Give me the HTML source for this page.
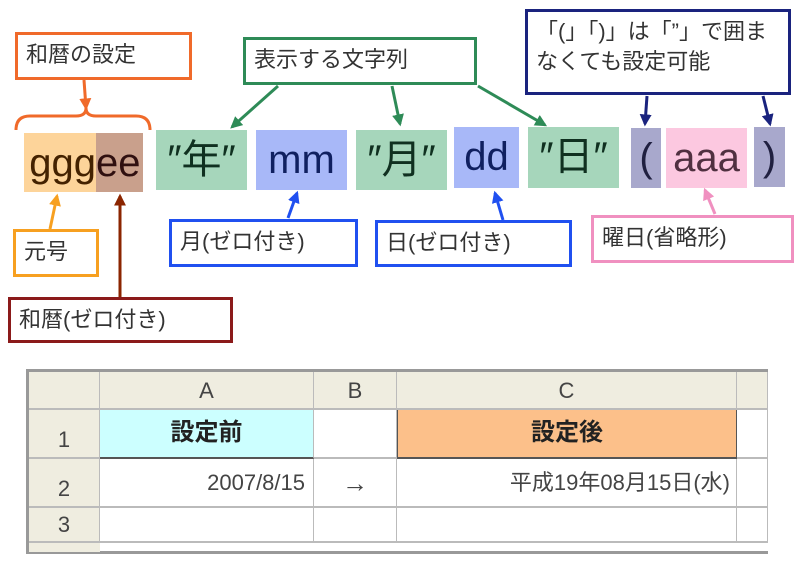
<!DOCTYPE html>
<html><head><meta charset="utf-8"><style>
body{margin:0;width:800px;height:566px;background:#fff;position:relative;overflow:hidden;font-family:"Liberation Sans","Noto Sans CJK JP",sans-serif;}
div{position:absolute;box-sizing:border-box;}
.b{background:#fff;border:3px solid;font-size:22px;color:#333;padding-left:8px;line-height:40px;white-space:nowrap}
.t{font-size:40px;text-align:center;line-height:60px}
.c{border-right:1px solid #bbb;border-bottom:2px solid #bbb;text-align:center;font-size:22px;color:#444}
</style></head><body>
<div class="b" style="left:15px;top:32px;width:177px;height:48px;border-color:#f06a2a">和暦の設定</div>
<div class="b" style="left:243px;top:37px;width:234px;height:48px;border-color:#2e8b57">表示する文字列</div>
<div class="b" style="left:525px;top:9px;width:266px;height:86px;border-color:#1a237e;line-height:30px;padding-top:5px">「(」「)」は「”」で囲ま<br>なくても設定可能</div>

<div class="t" style="left:24px;top:133px;width:72px;height:59px;background:#fdd49a;color:#442200;text-align:right">ggg</div>
<div class="t" style="left:96px;top:133px;width:47px;height:59px;background:#c9a08c;color:#301010;text-align:left">ee</div>
<div class="t" style="left:156px;top:130px;width:91px;height:60px;background:#a6d6bb;color:#103020">″年″</div>
<div class="t" style="left:256px;top:130px;width:91px;height:60px;background:#a8b8f8;color:#102060">mm</div>
<div class="t" style="left:356px;top:130px;width:91px;height:60px;background:#a6d6bb;color:#103020">″月″</div>
<div class="t" style="left:454px;top:127px;width:65px;height:61px;background:#a8b8f8;color:#102060">dd</div>
<div class="t" style="left:528px;top:127px;width:91px;height:61px;background:#a6d6bb;color:#103020">″日″</div>
<div class="t" style="left:631px;top:128px;width:30px;height:60px;background:#a8a8cc;color:#202040">(</div>
<div class="t" style="left:666px;top:128px;width:81px;height:60px;background:#fcc8e0;color:#503040">aaa</div>
<div class="t" style="left:754px;top:127px;width:31px;height:60px;background:#a8a8cc;color:#202040">)</div>

<div class="b" style="left:13px;top:229px;width:86px;height:48px;border-color:#f7a020">元号</div>
<div class="b" style="left:8px;top:297px;width:225px;height:46px;border-color:#8b1a1a">和暦(ゼロ付き)</div>
<div class="b" style="left:169px;top:219px;width:189px;height:48px;border-color:#2050f0">月(ゼロ付き)</div>
<div class="b" style="left:375px;top:220px;width:197px;height:47px;border-color:#2050f0">日(ゼロ付き)</div>
<div class="b" style="left:591px;top:215px;width:203px;height:48px;border-color:#f090c0">曜日(省略形)</div>

<svg style="position:absolute;left:0;top:0" width="800" height="566">
<defs>
<marker id="m" viewBox="0 0 10 10" refX="8" refY="5" markerWidth="4" markerHeight="4" orient="auto"><path d="M0,0L10,5L0,10z" fill="context-stroke"/></marker>
</defs>
<g fill="none" stroke-width="3" marker-end="url(#m)">
<path d="M84,80L86,108" stroke="#f06a2a"/>
<path d="M278,86L232,127" stroke="#2e8b57"/>
<path d="M392,86L400,124" stroke="#2e8b57"/>
<path d="M478,86L545,125" stroke="#2e8b57"/>
<path d="M647,96L645,124" stroke="#1a237e"/>
<path d="M763,96L770,124" stroke="#1a237e"/>
<path d="M50,229L57,196" stroke="#f7a020"/>
<path d="M120,297L120,196" stroke="#8b2500"/>
<path d="M288,218L297,193" stroke="#2050f0"/>
<path d="M503,220L495,193" stroke="#2050f0"/>
<path d="M715,214L705,190" stroke="#f090c0"/>
</g>
<path d="M16,130Q16,116 30,116L76,116Q86,116 86,108Q86,116 96,116L136,116Q150,116 150,130" fill="none" stroke="#f06a2a" stroke-width="3"/>
</svg>

<div style="left:26px;top:369px;width:742px;height:185px;border:3px solid #999;background:#fff;border-right:none"></div>
<div style="left:29px;top:372px;width:739px;height:38px;background:#efede0"></div>
<div style="left:29px;top:372px;width:71px;height:180px;background:#efede0"></div>
<div class="c" style="left:29px;top:372px;width:71px;height:38px"></div>
<div class="c" style="left:100px;top:372px;width:214px;height:38px;line-height:37px">A</div>
<div class="c" style="left:314px;top:372px;width:83px;height:38px;line-height:37px">B</div>
<div class="c" style="left:397px;top:372px;width:340px;height:38px;line-height:37px">C</div>
<div class="c" style="left:737px;top:372px;width:31px;height:38px"></div>
<div class="c" style="left:29px;top:410px;width:71px;height:49px;line-height:60px">1</div>
<div class="c" style="left:29px;top:459px;width:71px;height:49px;line-height:60px">2</div>
<div class="c" style="left:29px;top:508px;width:71px;height:35px;line-height:34px">3</div>
<div class="c" style="left:100px;top:410px;width:214px;height:49px;background:#ccffff;border-bottom:2px solid #555;font-weight:bold;color:#222;line-height:46px;font-size:24px">設定前</div>
<div class="c" style="left:314px;top:410px;width:83px;height:49px"></div>
<div class="c" style="left:397px;top:410px;width:340px;height:49px;background:#fcc08a;border-bottom:2px solid #555;border-left:1px solid #555;border-right:1px solid #555;font-weight:bold;color:#222;line-height:46px;font-size:24px">設定後</div>
<div class="c" style="left:737px;top:410px;width:31px;height:49px"></div>
<div class="c" style="left:100px;top:459px;width:214px;height:49px;text-align:right;padding-right:8px;line-height:48px">2007/8/15</div>
<div class="c" style="left:314px;top:459px;width:83px;height:49px;line-height:48px;font-size:26px">→</div>
<div class="c" style="left:397px;top:459px;width:340px;height:49px;text-align:right;padding-right:6px;line-height:48px;font-size:22px">平成19年08月15日(水)</div>
<div class="c" style="left:737px;top:459px;width:31px;height:49px"></div>
<div class="c" style="left:100px;top:508px;width:214px;height:35px"></div>
<div class="c" style="left:314px;top:508px;width:83px;height:35px"></div>
<div class="c" style="left:397px;top:508px;width:340px;height:35px"></div>
<div class="c" style="left:737px;top:508px;width:31px;height:35px"></div>
</body></html>
